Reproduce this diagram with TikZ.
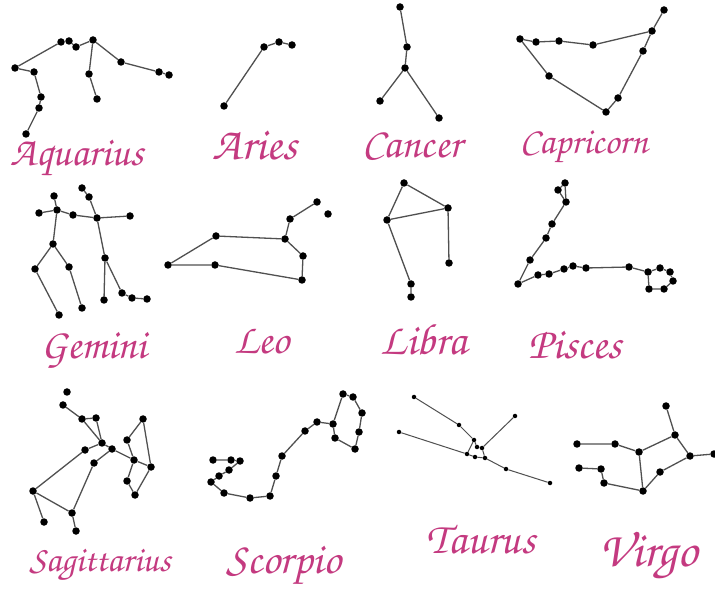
\documentclass[tikz,border=0pt]{standalone}
\usepackage{fontspec}
\newfontfamily\scriptf{TeX Gyre Chorus}
\definecolor{pinkc}{RGB}{196,58,128}
\definecolor{linec}{RGB}{80,80,80}
\tikzset{
  st/.style={circle,fill=black,inner sep=0pt,minimum size=7.5pt},
  sm/.style={circle,fill=black,inner sep=0pt,minimum size=4.5pt},
  cl/.style={draw=linec,line width=1.3pt},
  lbl/.style={text=pinkc,font=\scriptf\fontsize{#1}{#1}\selectfont,inner sep=0pt}
}
\begin{document}
\begin{tikzpicture}[x=1pt,y=-1pt]
\useasboundingbox (0,0) rectangle (715,593);
\fill[white] (0,0) rectangle (715,593);
% Aquarius
\node[st] (a1) at (15,68) {}; \node[st] (a2) at (61,42) {}; \node[st] (a3) at (69,41) {};
\node[st] (a4) at (76,47) {}; \node[st] (a5) at (93,40) {}; \node[st] (a6) at (121,62) {};
\node[st] (a7) at (159,72) {}; \node[st] (a8) at (169,75) {}; \node[st] (a9) at (34,72) {};
\node[st] (a10) at (41,97) {}; \node[st] (a11) at (39,108) {}; \node[st] (a12) at (26,134) {};
\node[st] (a13) at (89,74) {}; \node[st] (a14) at (97,99) {};
\draw[cl] (a1)--(a2)--(a3)--(a4)--(a5)--(a6)--(a7)--(a8);
\draw[cl] (a1)--(a9)--(a10)--(a11)--(a12);
\draw[cl] (a5)--(a13)--(a14);
\node[lbl=41] (aqL) at (77,158) {Aquarius};
% Aries
\node[st] (r1) at (224,106) {}; \node[st] (r2) at (264,47) {}; \node[st] (r3) at (279,42) {}; \node[st] (r4) at (292,45) {};
\draw[cl] (r1)--(r2)--(r3)--(r4);
\node[lbl=46] (arL) at (255,146) {Aries};
% Cancer
\node[st] (c1) at (400,7) {}; \node[st] (c2) at (407,47) {}; \node[st] (c3) at (405,68) {};
\node[st] (c4) at (380,101) {}; \node[st] (c5) at (439,118) {};
\draw[cl] (c1)--(c2)--(c3)--(c4); \draw[cl] (c3)--(c5);
\node[lbl=42] (caL) at (412,147) {Cancer};
% Capricorn
\node[st] (p1) at (520,39) {}; \node[st] (p2) at (536,42) {}; \node[st] (p3) at (559,41) {};
\node[st] (p4) at (593,45) {}; \node[st] (p5) at (652,31) {}; \node[st] (p6) at (664,10) {};
\node[st] (p7) at (643,51) {}; \node[st] (p8) at (618,98) {}; \node[st] (p9) at (606,112) {};
\node[st] (p10) at (549,76) {};
\draw[cl] (p1)--(p2)--(p3)--(p4)--(p5)--(p6);
\draw[cl] (p5)--(p7)--(p8)--(p9)--(p10)--(p1);
\node[lbl=37] (cpL) at (584,147) {Capricorn};
% Gemini
\node[st] (g1) at (54,196) {}; \node[st] (g2) at (57,210) {}; \node[st] (g3) at (39,213) {};
\node[st] (g4) at (73,215) {}; \node[st] (g5) at (97,218) {}; \node[st] (g6) at (130,216) {};
\node[st] (g7) at (82,188) {}; \node[st] (g8) at (89,197) {}; \node[st] (g9) at (53,244) {};
\node[st] (g10) at (35,269) {}; \node[st] (g11) at (59,315) {}; \node[st] (g12) at (69,267) {};
\node[st] (g13) at (82,308) {}; \node[st] (g14) at (105,258) {}; \node[st] (g15) at (104,300) {};
\node[st] (g16) at (122,293) {}; \node[st] (g17) at (132,298) {}; \node[st] (g18) at (147,299) {};
\draw[cl] (g1)--(g2); \draw[cl] (g3)--(g2)--(g4)--(g5)--(g6);
\draw[cl] (g7)--(g8)--(g5);
\draw[cl] (g2)--(g9)--(g10)--(g11); \draw[cl] (g9)--(g12)--(g13);
\draw[cl] (g5)--(g14)--(g15); \draw[cl] (g14)--(g16)--(g17)--(g18);
\node[lbl=42] (geL) at (94,350) {Gemini};
% Leo
\node[st] (l1) at (168,265) {}; \node[st] (l2) at (216,236) {}; \node[st] (l3) at (215,265) {};
\node[st] (l4) at (285,239) {}; \node[st] (l5) at (290,219) {}; \node[st] (l6) at (317,202) {};
\node[st] (l7) at (328,214) {}; \node[st] (l8) at (303,256) {}; \node[st] (l9) at (302,280) {};
\draw[cl] (l1)--(l2)--(l4)--(l5)--(l6);
\draw[cl] (l4)--(l8)--(l9)--(l3)--(l1);
\node[lbl=42] (leL) at (262,342) {Leo};
% Libra
\node[st] (b1) at (404,183) {}; \node[st] (b2) at (448,208) {}; \node[st] (b3) at (387,220) {};
\node[st] (b4) at (449,263) {}; \node[st] (b5) at (411,284) {}; \node[st] (b6) at (411,297) {};
\draw[cl] (b1)--(b2)--(b4); \draw[cl] (b1)--(b3)--(b2); \draw[cl] (b3)--(b5)--(b6);
\node[lbl=44] (liL) at (424,340) {Libra};
% Pisces
\node[st] (s1) at (565,183) {}; \node[st] (s2) at (558,190) {}; \node[st] (s3) at (566,202) {};
\node[st] (s4) at (552,224) {}; \node[st] (s5) at (546,238) {}; \node[st] (s6) at (530,260) {};
\node[st] (s7) at (518,284) {}; \node[st] (s8) at (538,275) {}; \node[st] (s9) at (549,274) {};
\node[st] (s10) at (564,269) {}; \node[st] (s11) at (573,266) {}; \node[st] (s12) at (586,268) {};
\node[st] (s13) at (629,267) {}; \node[st] (s14) at (648,272) {}; \node[st] (s15) at (660,268) {};
\node[st] (s16) at (670,272) {}; \node[st] (s17) at (673,281) {}; \node[st] (s18) at (664,289) {};
\node[st] (s19) at (649,289) {};
\draw[cl] (s1)--(s2)--(s3)--(s1);
\draw[cl] (s3)--(s4)--(s5)--(s6)--(s7)--(s8)--(s9)--(s10)--(s11)--(s12)--(s13)--(s14)--(s15)--(s16)--(s17)--(s18)--(s19)--(s14);
\node[lbl=44] (piL) at (575,345) {Pisces};
% Sagittarius
\node[st] (t1) at (67,392) {}; \node[st] (t2) at (63,405) {}; \node[st] (t3) at (82,419) {};
\node[st] (t4) at (96,418) {}; \node[st] (t5) at (102,443) {}; \node[st] (t6) at (85,450) {};
\node[st] (t7) at (112,449) {}; \node[st] (t8) at (94,463) {}; \node[st] (t9) at (33,491) {};
\node[st] (t10) at (44,522) {}; \node[st] (t11) at (72,513) {}; \node[st] (t12) at (76,531) {};
\node[st] (t13) at (143,419) {}; \node[st] (t14) at (127,440) {}; \node[st] (t15) at (134,460) {};
\node[st] (t16) at (151,467) {}; \node[st] (t17) at (127,481) {}; \node[st] (t18) at (135,495) {};
\draw[cl] (t2)--(t3)--(t4)--(t5)--(t3); \draw[cl] (t5)--(t6)--(t9)--(t10);
\draw[cl] (t9)--(t11)--(t12); \draw[cl] (t11)--(t8)--(t7)--(t5);
\draw[cl] (t7)--(t15)--(t14)--(t13)--(t16)--(t15)--(t17)--(t18)--(t16);
\node[lbl=36] (saL) at (100,565) {Sagittarius};
% Scorpio
\node[st] (k1) at (343,394) {}; \node[st] (k2) at (353,397) {}; \node[st] (k3) at (362,413) {};
\node[st] (k4) at (359,432) {}; \node[st] (k5) at (355,449) {}; \node[st] (k6) at (335,438) {};
\node[st] (k7) at (333,424) {}; \node[st] (k8) at (317,422) {}; \node[st] (k9) at (305,431) {};
\node[st] (k10) at (282,456) {}; \node[st] (k11) at (276,476) {}; \node[st] (k12) at (270,496) {};
\node[st] (k13) at (250,498) {}; \node[st] (k14) at (224,493) {}; \node[st] (k15) at (211,482) {};
\node[st] (k16) at (219,476) {}; \node[st] (k17) at (229,470) {}; \node[st] (k18) at (240,461) {};
\node[st] (k19) at (231,460) {}; \node[st] (k20) at (213,460) {};
\draw[cl] (k1)--(k2)--(k3)--(k4)--(k5)--(k6)--(k7)--(k1);
\draw[cl] (k7)--(k8)--(k9)--(k10)--(k11)--(k12)--(k13)--(k14)--(k15)--(k16)--(k17)--(k18)--(k19)--(k20);
\node[lbl=44] (scL) at (284,565) {Scorpio};
% Taurus
\node[sm] (u1) at (414,397) {}; \node[sm] (u2) at (459,425) {}; \node[sm] (u3) at (474,440) {};
\node[sm] (u4) at (477,447) {}; \node[sm] (u5) at (482,448) {}; \node[sm] (u6) at (515,416) {};
\node[sm] (u7) at (399,432) {}; \node[sm] (u8) at (467,454) {}; \node[sm] (u9) at (475,457) {};
\node[sm] (u10) at (485,458) {}; \node[sm] (u11) at (506,469) {}; \node[sm] (u12) at (550,483) {};
\draw[cl,line width=1pt] (u1)--(u2)--(u3)--(u8); \draw[cl,line width=1pt] (u3)--(u4)--(u5)--(u6);
\draw[cl,line width=1pt] (u7)--(u8)--(u9)--(u10)--(u5); \draw[cl,line width=1pt] (u10)--(u11)--(u12);
\node[lbl=44] (taL) at (481,540) {Taurus};
% Virgo
\node[st] (v1) at (666,406) {}; \node[st] (v2) at (675,435) {}; \node[st] (v3) at (690,456) {};
\node[st] (v4) at (714,454) {}; \node[st] (v5) at (639,452) {}; \node[st] (v6) at (615,444) {};
\node[st] (v7) at (577,444) {}; \node[st] (v8) at (660,472) {}; \node[st] (v9) at (643,491) {};
\node[st] (v10) at (604,483) {}; \node[st] (v11) at (601,469) {}; \node[st] (v12) at (579,468) {};
\draw[cl] (v1)--(v2)--(v3)--(v4); \draw[cl] (v2)--(v5)--(v6)--(v7);
\draw[cl] (v5)--(v9); \draw[cl] (v3)--(v8)--(v9)--(v10)--(v11)--(v12);
\node[lbl=50] (viL) at (648,556) {Virgo};
\end{tikzpicture}
\end{document}
